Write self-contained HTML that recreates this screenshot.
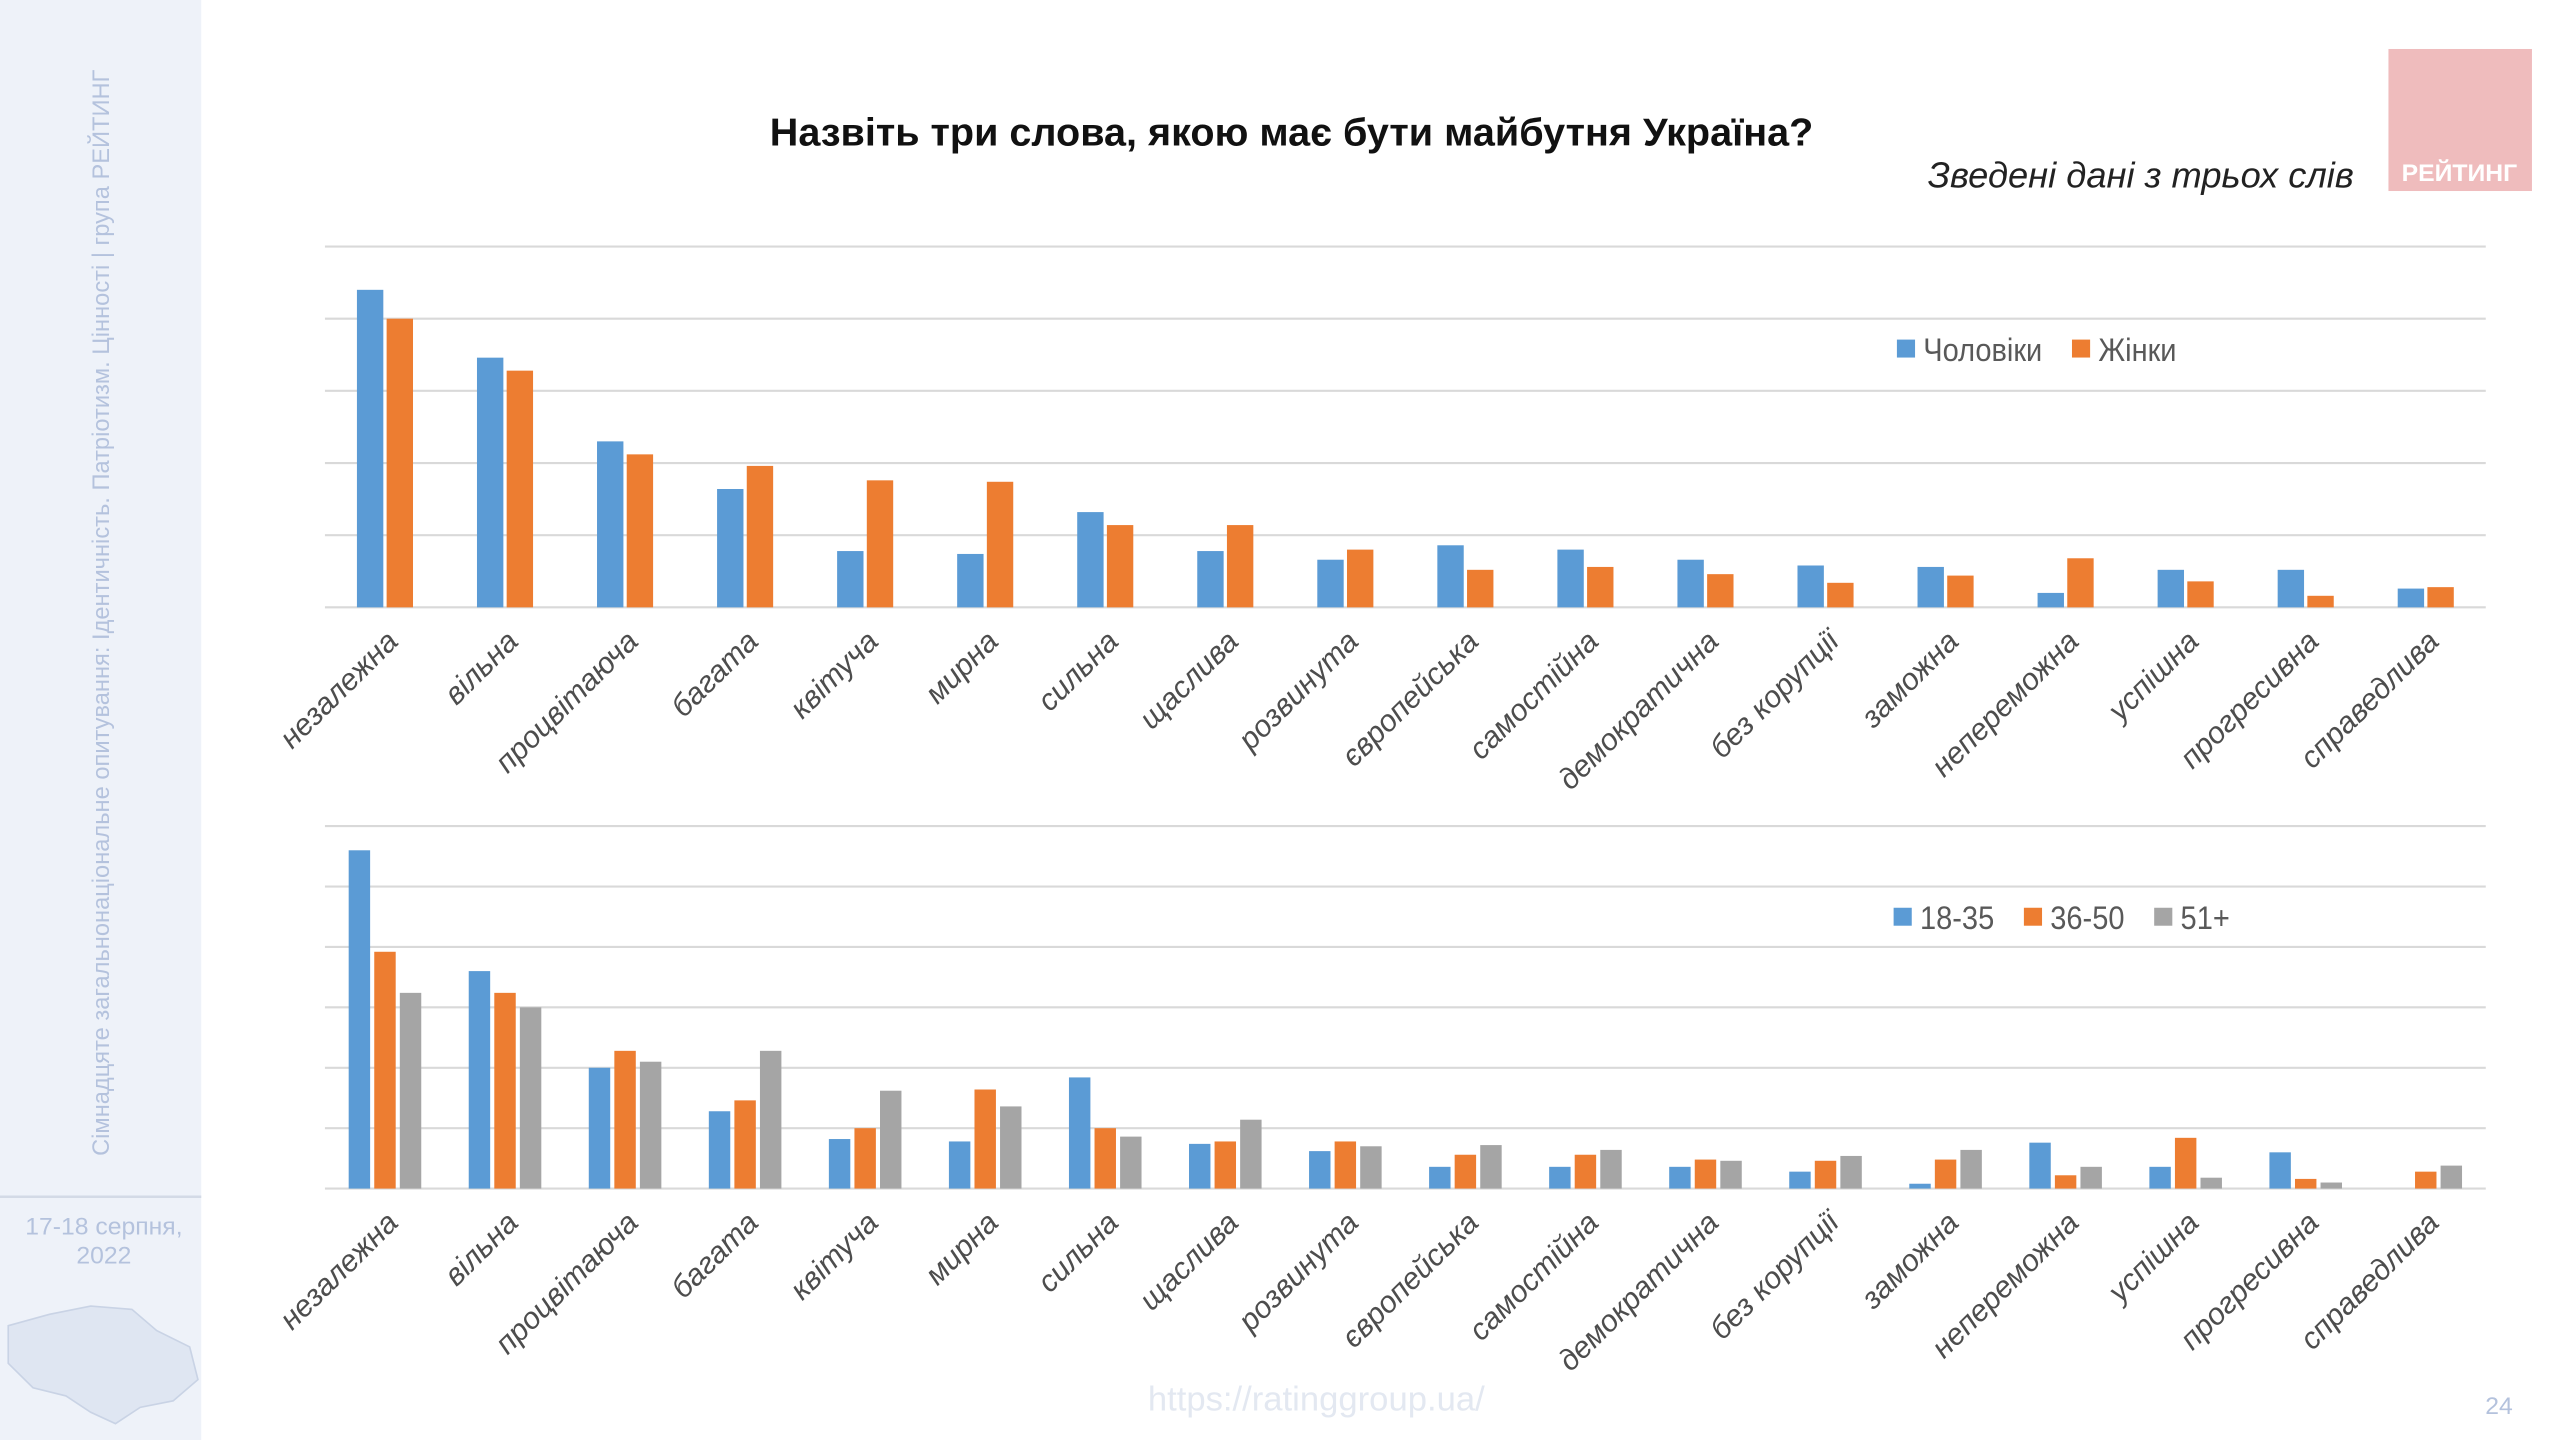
<!DOCTYPE html>
<html><head><meta charset="utf-8"><style>
html,body{margin:0;padding:0;background:#fff;}
svg{display:block;}
text{font-family:"Liberation Sans Narrow","Liberation Sans","Noto Sans CJK SC",sans-serif;}
</style></head><body>
<svg id="chart" width="2560" height="1440" viewBox="0 0 1552 882" preserveAspectRatio="none">
<rect x="0" y="0" width="1552" height="882" fill="#fff"/>
<rect x="0" y="0" width="122" height="882" fill="#eef2f9"/>
<line x1="0" y1="733" x2="122" y2="733" stroke="#d3dae6" stroke-width="1.5"/>
<text transform="translate(66,708) rotate(-90)" font-size="14.5" fill="#b4c2dd">Сімнадцяте загальнонаціональне опитування: Ідентичність. Патріотизм. Цінності | група РЕЙТИНГ</text>
<text x="63" y="756" font-size="15" fill="#b4c2dd" text-anchor="middle">17-18 серпня,</text>
<text x="63" y="774" font-size="15" fill="#b4c2dd" text-anchor="middle">2022</text>
<path d="M5,812 L30,805 L55,800 L80,802 L95,815 L115,825 L120,845 L105,858 L85,862 L70,872 L55,865 L40,855 L20,850 L5,835 Z" fill="#dfe6f2" stroke="#c9d3e5"/>
<text x="783" y="89" font-size="24" font-weight="bold" fill="#111" text-anchor="middle">Назвіть три слова, якою має бути майбутня Україна?</text>
<text x="1427" y="115" font-size="22" font-style="italic" fill="#222" text-anchor="end">Зведені дані з трьох слів</text>
<rect x="1448" y="30" width="87" height="87" fill="#efbcbd"/>
<text x="1491" y="111" font-size="15" font-weight="bold" fill="#fff" text-anchor="middle">РЕЙТИНГ</text>
<text x="798" y="864" font-size="21" fill="#e3e8f1" text-anchor="middle">https://ratinggroup.ua/</text>
<text x="1515" y="866" font-size="15" fill="#b4c2dd" text-anchor="middle">24</text>
<g id="top"></g>
<g id="bottom"></g>
</svg>
<script>
const categories = ["незалежна","вільна","процвітаюча","багата","квітуча","мирна","сильна","щаслива","розвинута","європейська","самостійна","демократична","без корупції","заможна","непереможна","успішна","прогресивна","справедлива"];
const men   = [22.0,17.3,11.5,8.2,3.9,3.7,6.6,3.9,3.3,4.3,4.0,3.3,2.9,2.8,1.0,2.6,2.6,1.3];
const women = [20.0,16.4,10.6,9.8,8.8,8.7,5.7,5.7,4.0,2.6,2.8,2.3,1.7,2.2,3.4,1.8,0.8,1.4];
const age1835 = [28.0,18.0,10.0,6.4,4.1,3.9,9.2,3.7,3.1,1.8,1.8,1.8,1.4,0.4,3.8,1.8,3.0,0.0];
const age3650 = [19.6,16.2,11.4,7.3,5.0,8.2,5.0,3.9,3.9,2.8,2.8,2.4,2.3,2.4,1.1,4.2,0.8,1.4];
const age51   = [16.2,15.0,10.5,11.4,8.1,6.8,4.3,5.7,3.5,3.6,3.2,2.3,2.7,3.2,1.8,0.9,0.5,1.9];
const topTicks = [0,5,10,15,20,25];
const bottomTicks = [0,5,10,15,20,25,30];
const NS="http://www.w3.org/2000/svg";
function mk(parent,tag,attrs){const e=document.createElementNS(NS,tag);for(const k in attrs)e.setAttribute(k,attrs[k]);parent.appendChild(e);return e;}
function drawChart(gid,series,colors,names,ticks,top,base,barW,gap,legendX,legendY){
  const g=document.getElementById(gid);
  const x0=197,x1=1507,max=ticks[ticks.length-1];
  const y=v=>base-(v/max)*(base-top);
  const band=(x1-x0)/categories.length;
  ticks.forEach(t=>{
    const l=mk(g,'line',{x1:x0,x2:x1,y1:y(t),y2:y(t),stroke:'#d9d9d9','stroke-width':1.3});
    
    
  });
  const n=series.length,gw=n*barW+(n-1)*gap;
  categories.forEach((c,i)=>{
    const cx=x0+band*(i+0.5);
    series.forEach((s,j)=>{
      const bx=cx-gw/2+j*(barW+gap);
      const r=mk(g,'rect',{x:bx,y:y(s[i]),width:barW,height:base-y(s[i]),fill:colors[j]});
      
      
    });
    const t=mk(g,'text',{transform:`translate(${cx+9},${base+22}) rotate(-45)`,'text-anchor':'end','font-size':18.5,'font-style':'italic',fill:'#4d4d4d'});
    t.textContent=c;
    
    
  });
  let lx=legendX;
  names.forEach((nm,j)=>{
    const sq=mk(g,'rect',{x:lx,y:legendY-6,width:11,height:11,fill:colors[j]});
    
    
    const t=mk(g,'text',{x:lx+16,y:legendY+7,'font-size':20,fill:'#595959',transform:`translate(${(lx+16)*0.12},0) scale(0.88,1)`});
    t.textContent=nm;
    
    
    lx+=16+t.getComputedTextLength()*0.88+18;
  });
}
drawChart('top',[men,women],['#5b9bd5','#ed7d31'],['Чоловіки','Жінки'],topTicks,151,372,16,2,1150,214);
drawChart('bottom',[age1835,age3650,age51],['#5b9bd5','#ed7d31','#a5a5a5'],['18-35','36-50','51+'],bottomTicks,506,728,13,2.5,1148,562);
</script>
</body></html>
